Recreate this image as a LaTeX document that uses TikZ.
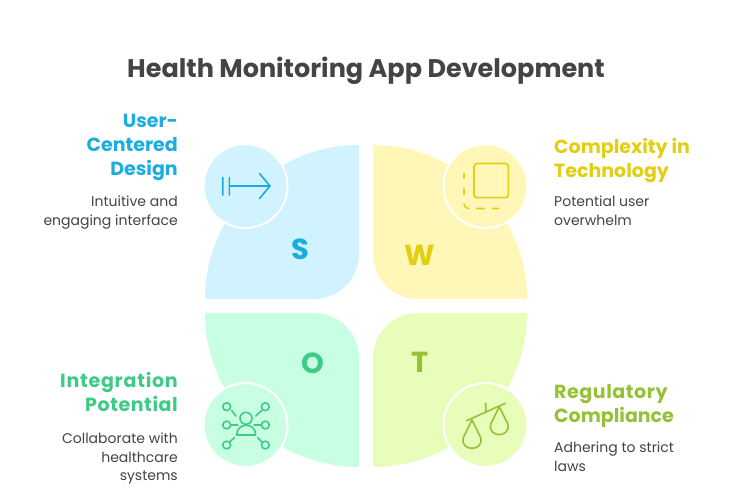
\documentclass[tikz,border=0pt]{standalone}
\usepackage{fontspec}
\setmainfont{Poppins}
\definecolor{sF}{HTML}{D1F3FF}\definecolor{sC}{HTML}{1CADE0}
\definecolor{wF}{HTML}{FFF7B8}\definecolor{wC}{HTML}{E2CF13}
\definecolor{oF}{HTML}{C8FFE3}\definecolor{oC}{HTML}{3ECB86}
\definecolor{tF}{HTML}{E8FDB9}\definecolor{tC}{HTML}{95C136}
\definecolor{ink}{HTML}{444444}
\tikzset{
 x=1pt,y=-1pt,
 disc/.style={circle,minimum size=84pt,inner sep=0pt,draw=white,line width=2pt},
 letter/.style={font=\bfseries\fontsize{29}{29}\selectfont},
 headL/.style={align=right,anchor=north east,inner sep=0pt,font=\bfseries\fontsize{19}{24}\selectfont},
 headR/.style={align=left,anchor=north west,inner sep=0pt,font=\bfseries\fontsize{19}{24}\selectfont},
 bodyL/.style={align=right,anchor=north east,inner sep=0pt,text=ink,font=\fontsize{14}{18.5}\selectfont},
 bodyR/.style={align=left,anchor=north west,inner sep=0pt,text=ink,font=\fontsize{14}{18.5}\selectfont},
 ico/.style={line width=1.6pt,line cap=round,line join=round},
}
\begin{document}
\begin{tikzpicture}
\useasboundingbox (0,0) rectangle (732,492);
\fill[white] (0,0) rectangle (732,492);
% quadrants
\fill[sF] (205,299) .. controls (205,214) and (274,145) .. (359,145) -- (359,254) .. controls (359,279) and (339,299) .. (314,299) -- cycle;
\fill[wF] (527,299) .. controls (527,214) and (458,145) .. (373,145) -- (373,254) .. controls (373,279) and (393,299) .. (418,299) -- cycle;
\fill[oF] (205,313) .. controls (205,398) and (274,467) .. (359,467) -- (359,358) .. controls (359,333) and (339,313) .. (314,313) -- cycle;
\fill[tF] (527,313) .. controls (527,398) and (458,467) .. (373,467) -- (373,358) .. controls (373,333) and (393,313) .. (418,313) -- cycle;
% discs
\node[disc,fill=sF] (ds) at (245.5,186) {};
\node[disc,fill=wF] (dw) at (485.5,186) {};
\node[disc,fill=oF] (do) at (245.5,425) {};
\node[disc,fill=tF] (dt) at (485.5,425) {};
% letters
\node[letter,text=sC] (ls) at (300,249) {S};
\node[letter,text=wC] (lw) at (420,255) {W};
\node[letter,text=oC] (lo) at (313,363) {O};
\node[letter,text=tC] (lt) at (420,362) {T};
% S icon
\draw[ico,sC] (222.7,177.5) -- (222.7,195) (229.3,177.5) -- (229.3,195) (229.3,186) -- (270,186) (259.5,173.5) -- (270,186) -- (259.5,198.5);
% W icon
\draw[ico,wC] (477,163.5) -- (505.5,163.5) .. controls (507,163.5) and (508.3,165) .. (508.3,166.5) -- (508.3,195) .. controls (508.3,196.5) and (507,197.7) .. (505.5,197.7) -- (477,197.7) .. controls (475.5,197.7) and (474,196.5) .. (474,195) -- (474,166.5) .. controls (474,165) and (475.5,163.5) .. (477,163.5) -- cycle;
\draw[ico,wC] (464,173.5) -- (464,178) (464,189) -- (464,194.5) (464,204) .. controls (464,206.5) and (466,208.5) .. (468.5,208.5) (477,208.5) -- (484,208.5) (492.5,208.5) -- (498.5,208.5);
% O icon
\draw[ico,oC] (246,418.3) circle[radius=6];
\draw[ico,oC] (236.7,435) .. controls (236.7,422) and (255.7,422) .. (255.7,435) -- cycle;
\foreach \p in {(226.7,406.7),(265.3,406.7),(226.7,425),(265.3,425),(226.7,445),(265.3,445)} \draw[ico,oC] \p circle[radius=3.9];
\draw[ico,oC] (231.7,410.5) -- (236,416) (261.7,410.5) -- (255.7,416) (230.7,425) -- (237.7,425) (254,425) -- (261,425) (230,441.7) -- (234.3,437.7) (257.7,437.7) -- (261.7,441.7);
% T icon
\draw[ico,tC] (466.7,420.7) -- (505.3,403.3) (485.7,403.3) -- (485.7,411.7);
\draw[ico,tC] (472,420) -- (463.6,437) .. controls (461,445) and (467,448.3) .. (472,448.3) .. controls (477,448.3) and (483,445) .. (480.4,437) -- cycle;
\draw[ico,tC] (499.3,406.7) -- (491,423.5) .. controls (488.5,431) and (494.5,434.7) .. (499.3,434.7) .. controls (504,434.7) and (510,431) .. (507.6,423.5) -- cycle;
% title
\node[inner sep=0pt,text=ink,font=\bfseries\fontsize{25.5}{34}\selectfont] (title) at (366,71) {Health Monitoring App Development};
% texts
\node[headL,text=sC] (h1) at (178,114) {User-\\Centered\\Design};
\node[bodyL] (b1) at (178,196) {Intuitive and\\engaging interface};
\node[headR,text=wC] (h2) at (554,138) {Complexity in\\Technology};
\node[bodyR] (b2) at (554,196) {Potential user\\overwhelm};
\node[headL,text=oC] (h3) at (178,372) {\addfontfeature{LetterSpace=4}Integration\\\addfontfeature{LetterSpace=3}Potential};
\node[bodyL] (b3) at (178,433) {Collaborate with\\healthcare\\systems};
\node[headR,text=tC] (h4) at (554,384) {\addfontfeature{LetterSpace=3}Regulatory\\\addfontfeature{LetterSpace=0}Compliance};
\node[bodyR] (b4) at (554,442) {Adhering to strict\\laws};
\end{tikzpicture}
\end{document}
